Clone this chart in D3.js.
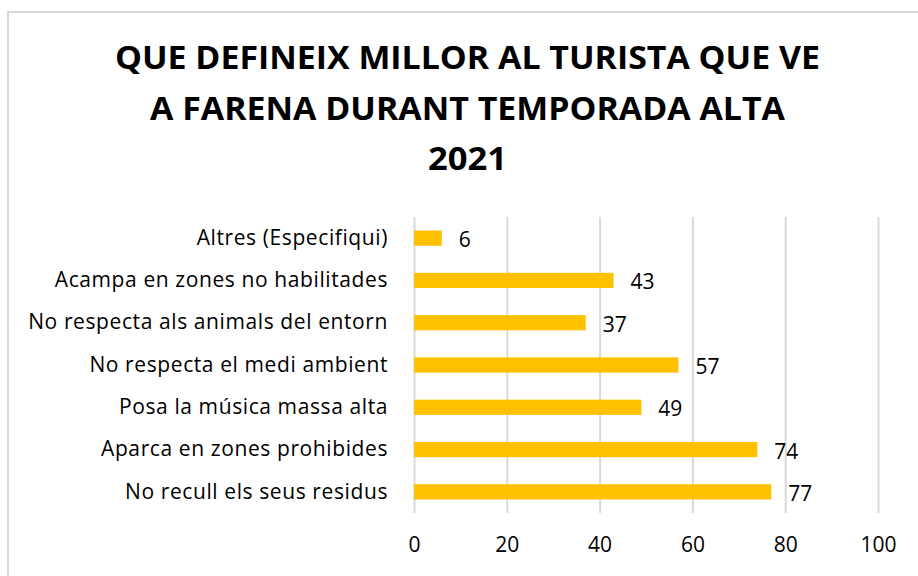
<!DOCTYPE html>
<html>
<head>
<meta charset="utf-8">
<script src="https://cdn.jsdelivr.net/npm/d3@7"></script>
<style>
  body { margin: 0; background: #fff; }
  svg { display: block; }
</style>
</head>
<body>
<div id="chart"></div>
<script>
const titleLines = ['QUE DEFINEIX MILLOR AL TURISTA QUE VE', 'A FARENA DURANT TEMPORADA ALTA', '2021'];
const categories = [
  'Altres (Especifiqui)',
  'Acampa en zones no habilitades',
  'No respecta als animals del entorn',
  'No respecta el medi ambient',
  'Posa la música massa alta',
  'Aparca en zones prohibides',
  'No recull els seus residus'
];
const values = [6, 43, 37, 57, 49, 74, 77];
const xTicks = [0, 20, 40, 60, 80, 100];

const W = 918, H = 576;
const margin = { top: 217, right: 40, bottom: 63, left: 414 };
const width = 878 - margin.left;
const height = H - margin.top - margin.bottom;
const font = '"Open Sans", "Noto Sans", sans-serif';

const svg = d3.select('#chart')
  .append('svg')
  .attr('width', W)
  .attr('height', H);

// chart frame
svg.append('rect')
  .attr('x', 8).attr('y', 12)
  .attr('width', W + 10).attr('height', H + 10)
  .attr('fill', '#fff')
  .attr('stroke', '#d9d9d9')
  .attr('stroke-width', 2);

// title (condensed to fit the original widths)
const titleWidths = [705, 635, 79];
svg.append('g')
  .selectAll('text')
  .data(titleLines)
  .join('text')
  .attr('x', 467.5)
  .attr('y', (d, i) => 69 + i * 50.5)
  .attr('text-anchor', 'middle')
  .attr('font-family', font)
  .attr('font-weight', 700)
  .attr('font-size', 33)
  .attr('fill', '#000')
  .attr('textLength', (d, i) => titleWidths[i])
  .attr('lengthAdjust', 'spacingAndGlyphs')
  .text(d => d);

const g = svg.append('g')
  .attr('transform', `translate(${margin.left},${margin.top})`);

const x = d3.scaleLinear().domain([0, 100]).range([0, width]);
const y = d3.scaleBand().domain(categories).range([0, height]).paddingInner(0.64).paddingOuter(0.32);

// gridlines
g.append('g')
  .attr('class', 'grid')
  .call(d3.axisBottom(x).tickValues(xTicks).tickSize(height).tickFormat(''))
  .call(s => s.select('.domain').remove())
  .call(s => s.selectAll('line').attr('stroke', '#d9d9d9').attr('stroke-width', 2));

// x axis labels
g.append('g')
  .attr('transform', `translate(0,${height})`)
  .call(d3.axisBottom(x).tickValues(xTicks).tickSize(0).tickPadding(24))
  .call(s => s.select('.domain').remove())
  .call(s => s.selectAll('text')
    .attr('font-family', font)
    .attr('font-size', 21)
    .attr('fill', '#000'));

// y axis labels
g.append('g')
  .call(d3.axisLeft(y).tickSize(0).tickPadding(26))
  .call(s => s.select('.domain').remove())
  .call(s => s.selectAll('text')
    .attr('font-family', font)
    .attr('font-size', 21)
    .attr('letter-spacing', 0.6)
    .attr('fill', '#000'));

// bars
g.selectAll('.bar')
  .data(values)
  .join('rect')
  .attr('class', 'bar')
  .attr('x', x(0))
  .attr('y', (d, i) => y(categories[i]))
  .attr('width', d => x(d) - x(0))
  .attr('height', y.bandwidth())
  .attr('fill', '#ffc000');

// value labels
g.selectAll('.val')
  .data(values)
  .join('text')
  .attr('class', 'val')
  .attr('x', d => x(d) + 17)
  .attr('y', (d, i) => y(categories[i]) + y.bandwidth() / 2 + 9)
  .attr('font-family', font)
  .attr('font-size', 21)
  .attr('fill', '#000')
  .text(d => d);
</script>
</body>
</html>
